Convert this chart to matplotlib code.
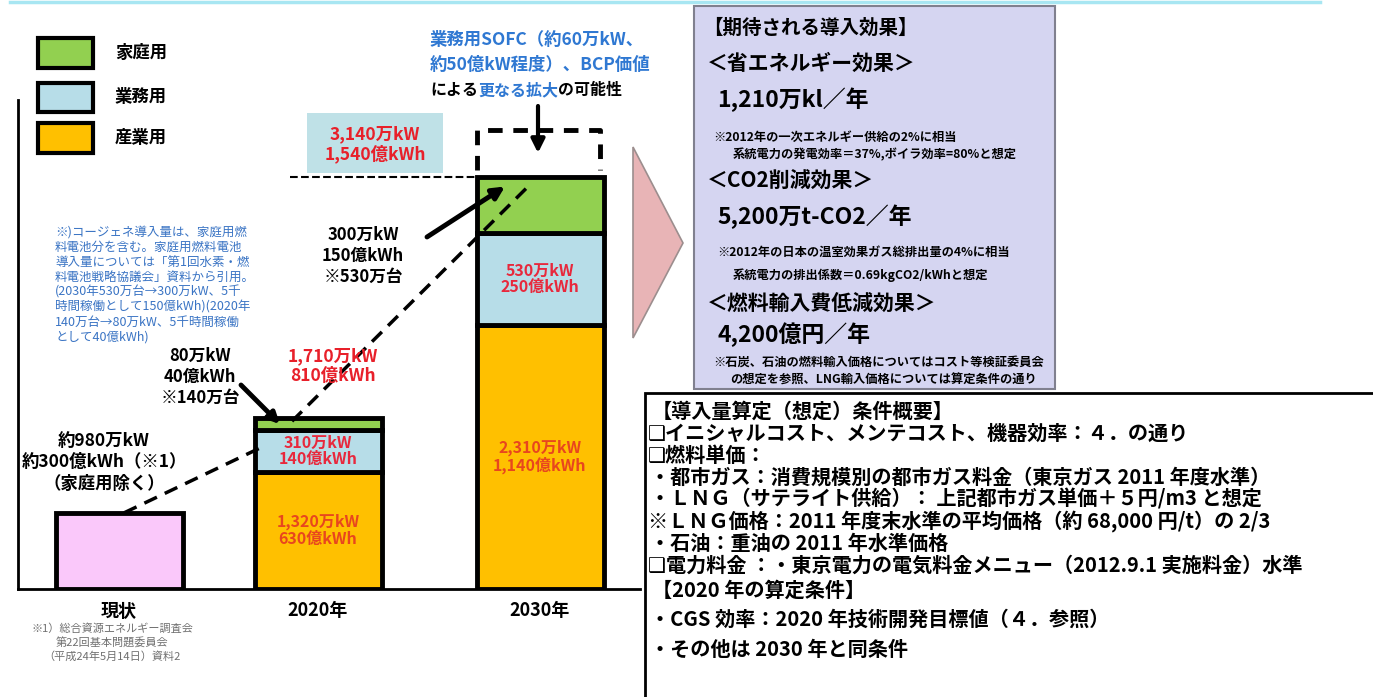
import numpy as np
import matplotlib
matplotlib.use('Agg')
import matplotlib.pyplot as plt
from matplotlib.patches import Rectangle, Polygon

plt.rcParams['font.family'] = ['Noto Sans CJK JP', 'DejaVu Sans']
plt.rcParams['font.weight'] = 'bold'

# コージェネ導入量（万kW）と発電量（億kWh）
categories = ['現状', '2020年', '2030年']
sectors = ['産業用', '業務用', '家庭用']
current_kw = 980
current_kwh = 300
kw_2020 = [1320, 310, 80]
kwh_2020 = [630, 140, 40]
kw_2030 = [2310, 530, 300]
kwh_2030 = [1140, 250, 150]
fc_units_2020 = 140   # 家庭用燃料電池（万台）
fc_units_2030 = 530

sector_colors = ['#FFC000', '#B7DDE8', '#92D050']
value_colors = ['#E8461E', '#E8283C', None]
RED = '#E8202A'
BLUE = '#2F78D2'

W, H = 1373, 697
fig = plt.figure(figsize=(W / 100, H / 100), dpi=100)

# bar area: x in pixels, y on a compressed power scale (schematic)
P = 1.45
fwd = lambda v: np.power(np.clip(v, 0, None), P)
inv = lambda v: np.power(np.clip(v, 0, None), 1 / P)
ax = fig.add_axes([18 / W, (H - 589) / H, (640 - 18) / W, (589 - 100) / H])
ax.set_xlim(18, 640)
ax.set_yscale('function', functions=(fwd, inv))
ax.set_ylim(0, 3534)
for s in ['top', 'right']:
    ax.spines[s].set_visible(False)
for s in ['left', 'bottom']:
    ax.spines[s].set_linewidth(2)
ax.set_yticks([])
ax.minorticks_off()
ax.patch.set_alpha(0)

bar_x = [119, 318, 540]
bw = 127

ax.bar(bar_x[0], current_kw, width=bw, color='#FAC8FA', edgecolor='black', linewidth=3.5)
for xc, kws, kwhs in [(bar_x[1], kw_2020, kwh_2020), (bar_x[2], kw_2030, kwh_2030)]:
    bottom = 0
    for kw, kwh, col, tcol in zip(kws, kwhs, sector_colors, value_colors):
        ax.bar(xc, kw, bottom=bottom, width=bw, color=col, edgecolor='black', linewidth=3.5)
        if tcol is not None:
            ymid = inv((fwd(bottom) + fwd(bottom + kw)) / 2)
            ax.text(xc, ymid, f'{kw:,}万kW\n{kwh:,}億kWh', ha='center', va='center',
                    color=tcol, fontsize=11.5, linespacing=1.05)
        bottom += kw

ax.set_xticks(bar_x, categories)
ax.tick_params(axis='x', length=0, pad=9, labelsize=13)

total_2020 = sum(kw_2020)
total_2030 = sum(kw_2030)

# overlay in pixel coordinates for notes and shapes
ov = fig.add_axes([0, 0, 1, 1])
ov.set_xlim(0, W)
ov.set_ylim(H, 0)
ov.axis('off')
ov.patch.set_alpha(0)

ov.plot([10, 1320], [1.5, 1.5], color='#A8E6F2', lw=2.5)

# legend
for (yt, yb), col, name in zip([(123, 153), (83, 112), (38, 68)], sector_colors, sectors):
    ov.add_patch(Rectangle((38, yt), 55, yb - yt, fc=col, ec='black', lw=3))
    ov.text(115, (yt + yb) / 2, name, va='center', fontsize=12.5)

# 2030 total box
ov.add_patch(Rectangle((307, 113), 136, 60, fc='#BFE1E7', ec='none'))
ov.text(375, 144, f'{total_2030:,}万kW\n{sum(kwh_2030):,}億kWh', ha='center', va='center',
        color=RED, fontsize=12.5, linespacing=1.1)
ax.plot([290, 478], [total_2030, total_2030], ls='--', lw=1.5, color='black', clip_on=False)

# expansion potential
ov.text(430, 40, '業務用SOFC（約60万kW、', color=BLUE, va='center', fontsize=12.5)
ov.text(430, 65, '約50億kW程度）、BCP価値', color=BLUE, va='center', fontsize=12.5)
renderer = fig.canvas.get_renderer()
x0 = 430
for piece, col in [('による', 'black'), ('更なる拡大', BLUE), ('の可能性', 'black')]:
    t = ov.text(x0, 90, piece, color=col, va='center', fontsize=11.5)
    x0 += t.get_window_extent(renderer).width
ov.plot([477, 477, 600, 600], [170, 130, 130, 170], ls=(0, (3, 2.2)), lw=3.5, color='black')
ov.annotate('', xy=(538, 153), xytext=(538, 106),
            arrowprops=dict(arrowstyle='-|>', lw=3, color='black', mutation_scale=20,
                            shrinkA=0, shrinkB=0))

# household fuel cells
ov.text(363, 256, f'{kw_2030[2]}万kW\n{kwh_2030[2]}億kWh\n※{fc_units_2030}万台', ha='center',
        va='center', fontsize=12, linespacing=1.2)
ax.annotate('', xy=(505, total_2030 - 50), xytext=(427, 237), textcoords=ov.transData,
            arrowprops=dict(arrowstyle='-|>', lw=3.5, color='black', mutation_scale=18,
                            shrinkA=0, shrinkB=0))
ov.text(200, 377, f'{kw_2020[2]}万kW\n{kwh_2020[2]}億kWh\n※{fc_units_2020}万台', ha='center',
        va='center', fontsize=12, linespacing=1.2)
ax.annotate('', xy=(280, total_2020 - 40), xytext=(241, 385), textcoords=ov.transData,
            arrowprops=dict(arrowstyle='-|>', lw=3.5, color='black', mutation_scale=16,
                            shrinkA=0, shrinkB=0))

ov.text(333, 366, f'{total_2020:,}万kW\n{sum(kwh_2020):,}億kWh', ha='center', va='center',
        color=RED, fontsize=12.5, linespacing=1.1)

# growth lines
ax.plot([124, 262], [current_kw, kw_2020[0] + kw_2020[1] * 0.6], ls=(0, (4, 2.5)), lw=2.5,
        color='black', clip_on=False, zorder=4)
ax.plot([292, 530], [total_2020 - 20, total_2030 - 40], ls=(0, (4, 2.5)), lw=2.5,
        color='black', clip_on=False, zorder=4)

# current status
ov.text(104, 462, f'約{current_kw}万kW\n約{current_kwh}億kWh（※1）\n（家庭用除く）', ha='center',
        va='center', fontsize=12.5, linespacing=1.25)
ov.text(112, 643, '※1）総合資源エネルギー調査会\n第22回基本問題委員会\n（平成24年5月14日）資料2',
        ha='center', va='center', fontsize=8, color='#707070', fontweight='normal',
        linespacing=1.35)

note = ['※)コージェネ導入量は、家庭用燃', '料電池分を含む。家庭用燃料電池',
        '導入量については「第1回水素・燃', '料電池戦略協議会」資料から引用。',
        '(2030年530万台→300万kW、5千', '時間稼働として150億kWh)(2020年',
        '140万台→80万kW、5千時間稼働', 'として40億kWh)']
for i, line in enumerate(note):
    ov.text(55, 232 + 15 * i, line, color='#3A74C4', va='center', fontsize=9,
            fontweight='normal')

# arrow to effects panel
ov.add_patch(Polygon([(633, 147), (683, 243), (633, 338)], closed=True, fc='#E8B4B6',
                     ec='#9C8E8E', lw=1.2))

# expected effects
ov.add_patch(Rectangle((694, 6), 361, 383, fc='#D5D5F1', ec='#80808F', lw=1.5))
effects = [
    (703, 28, '【期待される導入効果】', 14),
    (707, 63, '＜省エネルギー効果＞', 15),
    (717, 100, '1,210万kl／年', 16.5),
    (713, 137, '※2012年の一次エネルギー供給の2%に相当', 8.8),
    (733, 155, '系統電力の発電効率＝37%,ボイラ効率=80%と想定', 8.8),
    (707, 180, '＜CO2削減効果＞', 15),
    (717, 217, '5,200万t-CO2／年', 16.5),
    (717, 252, '※2012年の日本の温室効果ガス総排出量の4%に相当', 8.8),
    (733, 275, '系統電力の排出係数＝0.69kgCO2/kWhと想定', 8.8),
    (707, 303, '＜燃料輸入費低減効果＞', 15),
    (717, 335, '4,200億円／年', 16.5),
    (713, 362, '※石炭、石油の燃料輸入価格についてはコスト等検証委員会', 8.8),
    (730, 380, 'の想定を参照、LNG輸入価格については算定条件の通り', 8.8),
]
for x, y, s, fs in effects:
    ov.text(x, y, s, va='center', fontsize=fs)

# calculation conditions
ov.add_patch(Rectangle((645, 393), 760, 330, fc='white', ec='black', lw=2))
conditions = [
    (652, 411, '【導入量算定（想定）条件概要】'),
    (648, 433, '❑イニシャルコスト、メンテコスト、機器効率：４．の通り'),
    (648, 455, '❑燃料単価：'),
    (650, 477, '・都市ガス：消費規模別の都市ガス料金（東京ガス 2011 年度水準）'),
    (650, 499, '・ＬＮＧ（サテライト供給）： 上記都市ガス単価＋５円/m3 と想定'),
    (648, 521, '※ＬＮＧ価格：2011 年度末水準の平均価格（約 68,000 円/t）の 2/3'),
    (650, 543, '・石油：重油の 2011 年水準価格'),
    (648, 565, '❑電力料金 ：・東京電力の電気料金メニュー（2012.9.1 実施料金）水準'),
    (652, 590, '【2020 年の算定条件】'),
    (650, 619, '・CGS 効率：2020 年技術開発目標値（４．参照）'),
    (650, 649, '・その他は 2030 年と同条件'),
]
for x, y, s in conditions:
    ov.text(x, y, s, va='center', fontsize=14.5)

fig.savefig('out.png', dpi=100)
